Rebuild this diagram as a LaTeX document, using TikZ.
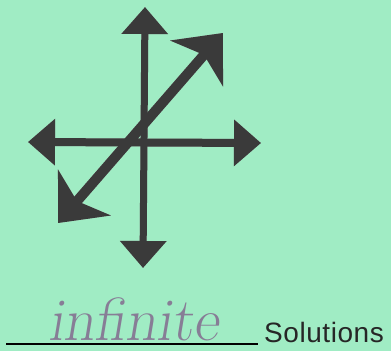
\documentclass[tikz,border=0pt]{standalone}
\usepackage{fontspec}
\usetikzlibrary{arrows.meta}
\newfontfamily\solfont{Liberation Sans}[LetterSpace=2]
\definecolor{bgc}{RGB}{160,236,196}
\definecolor{ink}{RGB}{58,58,58}
\definecolor{shade}{RGB}{172,188,178}
\definecolor{hand}{RGB}{135,125,150}
\tikzset{
  straightarrow/.style={line width=#1, {Triangle[length=27pt,width=45pt]}-{Triangle[length=27pt,width=45pt]}},
  diagarrow/.style={line width=10pt, {Stealth[length=40pt,width=69pt,inset=11pt]}-{Stealth[length=40pt,width=69pt,inset=11pt]}},
}
\begin{document}
\begin{tikzpicture}[x=1pt,y=-1pt]
\fill[bgc] (0,0) rectangle (391,351);
\useasboundingbox (0,0) rectangle (391,351);
\coordinate (vt) at (145,7);
\coordinate (vb) at (143,268);
\coordinate (hl) at (28,142);
\coordinate (hr) at (261,143);
\coordinate (dl) at (58,223);
\coordinate (dr) at (223,33);
% shadows
\begin{scope}[shift={(-2,3)}, color=shade]
\draw[straightarrow=7pt] (vb) -- (vt);
\draw[straightarrow=8pt] (hl) -- (hr);
\draw[diagarrow] (dl) -- (dr);
\end{scope}
% arrows
\begin{scope}[color=ink]
\draw[straightarrow=7pt] (vb) -- (vt);
\draw[straightarrow=8pt] (hl) -- (hr);
\draw[diagarrow] (dl) -- (dr);
\end{scope}
% answer line
\coordinate (ul1) at (6,344);
\coordinate (ul2) at (258,344);
\draw[line width=1.5pt, black] (ul1) -- (ul2);
\node[anchor=base west, inner sep=0pt, text=hand, font=\fontsize{61}{61}\selectfont\slshape] (ans) at (48,340) {infinite};
\node[anchor=base west, inner sep=0pt, text=black!85, font=\solfont\fontsize{28}{28}\selectfont] (sol) at (264,342) {Solutions};
\end{tikzpicture}
\end{document}
